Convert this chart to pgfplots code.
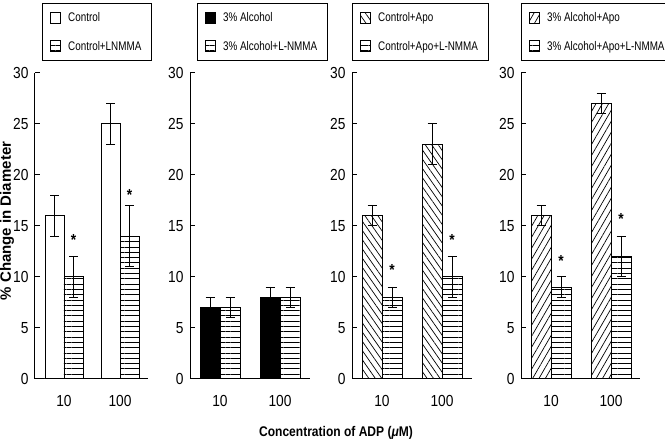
\documentclass[border=0pt]{standalone}
\usepackage{fontspec}
\setmainfont[FakeStretch=0.86]{Liberation Sans}
\newfontfamily\ylabfont{Liberation Sans}
\newfontfamily\legfont[FakeStretch=0.79]{Liberation Sans}
\usepackage{pgfplots}
\pgfplotsset{compat=1.18}
\usetikzlibrary{patterns.meta}

\tikzset{star/.style={font=\fontsize{16}{16}\selectfont\bfseries, yshift=-3.5pt}}
\pgfplotsset{
  panel/.style={
    scale only axis, width=120pt, height=306pt,
    xmin=0, xmax=120, ymin=0, ymax=30,
    axis x line=bottom, axis y line=left,
    axis line style={line width=1pt, -},
    ytick={0,5,...,30}, xtick={30,90}, xticklabels={10,100},
    major tick length=5pt,
    tick style={line width=0.8pt, black},
    xtick style={draw=none},
    tick align=inside,
    ticklabel style={font=\fontsize{16}{16}\selectfont},
    /pgf/number format/assume math mode=true,
    yticklabel style={xshift=-3pt},
    xticklabel style={yshift=-8pt},
    ybar, bar width=20,
    clip=false,
    legend cell align=left,
    legend image code/.code={\draw[#1, line width=0.7pt] (0pt,-5.5pt) rectangle (10pt,5.5pt);},
    legend style={draw=black, line width=0.9pt, anchor=north west,
      font=\legfont\fontsize{12.5}{12.5}\selectfont, row sep=14pt, inner xsep=8pt, inner ysep=7pt,
      /tikz/every odd column/.append style={column sep=5pt}},
  },
  errs/.style={
    /pgfplots/error bars/y dir=both, /pgfplots/error bars/y explicit,
    /pgfplots/error bars/error bar style={line width=0.8pt, black},
    /pgfplots/error bars/error mark options={rotate=90, mark size=4.5pt, line width=0.8pt, black}},
  bara/.style={errs, draw=black, line width=0.8pt, bar shift=-10},
  barb/.style={errs, draw=black, line width=0.8pt, bar shift=10,
    pattern={Lines[angle=0,distance=5.3pt,line width=0.7pt]}},
}

\begin{document}
\begin{tikzpicture}[x=1pt,y=1pt]
\useasboundingbox (0,0) rectangle (665,443);

% Panel 1
\begin{axis}[panel, at={(35,63)}, anchor=south west, width=113pt, xmax=113,
  xtick={29,85}, bar width=19, legend style={at={(0.062,1.228)}}]
\addplot[bara, fill=white, bar shift=-9.5] coordinates {(29,16) +- (0,2) (85,25) +- (0,2)};
\addplot[barb, bar shift=9.5] coordinates {(29,10) +- (0,2) (85,14) +- (0,3)};
\legend{Control, Control+LNMMA}
\node[star] at (axis cs:38.5,13.9) {*};
\node[star] at (axis cs:94.5,18.4) {*};
\end{axis}

% Panel 2
\begin{axis}[panel, at={(190,63)}, anchor=south west, legend style={at={(0.058,1.228)}}]
\addplot[bara, fill=black] coordinates {(30,7) +- (0,1) (90,8) +- (0,1)};
\addplot[barb] coordinates {(30,7) +- (0,1) (90,8) +- (0,1)};
\legend{3\% Alcohol, 3\% Alcohol+L-NMMA}
\end{axis}

% Panel 3
\begin{axis}[panel, at={(352,63)}, anchor=south west, legend style={at={(0,1.228)}}]
\addplot[bara, pattern={Lines[angle=-55,distance=5.3pt,line width=0.7pt]}] coordinates {(30,16) +- (0,1) (90,23) +- (0,2)};
\addplot[barb] coordinates {(30,8) +- (0,1) (90,10) +- (0,2)};
\legend{Control+Apo, Control+Apo+L-NMMA}
\node[star] at (axis cs:40,11.0) {*};
\node[star] at (axis cs:100,13.9) {*};
\end{axis}

% Panel 4
\begin{axis}[panel, at={(521,63)}, anchor=south west, width=119pt, xmax=119, legend style={at={(0,1.228)}}]
\addplot[bara, pattern={Lines[angle=60,distance=5.5pt,line width=0.7pt]}] coordinates {(30,16) +- (0,1) (90,27) +- (0,1)};
\addplot[barb] coordinates {(30,9) +- (0,1) (90,12) +- (0,2)};
\legend{3\% Alcohol+Apo, 3\% Alcohol+Apo+L-NMMA}
\node[star] at (axis cs:40,11.9) {*};
\node[star] at (axis cs:100,16.0) {*};
\end{axis}

\node[font=\ylabfont\fontsize{15}{15}\selectfont\bfseries, rotate=90] at (7,222) {\% Change in Diameter};
\node[font=\fontsize{14}{14}\selectfont\bfseries] at (336,10) {Concentration of ADP (\textit{μ}M)};
\end{tikzpicture}
\end{document}
